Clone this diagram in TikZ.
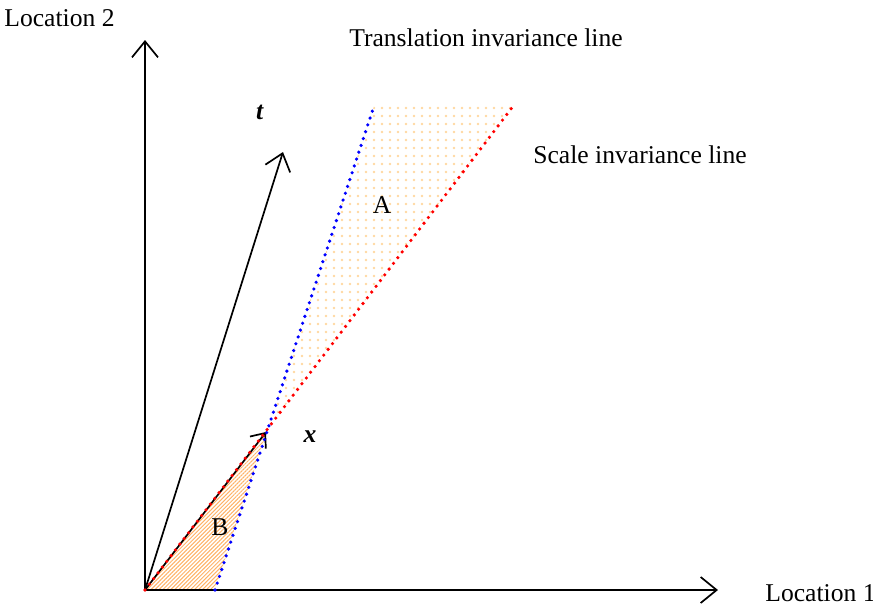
\documentclass[tikz,border=0pt]{standalone}
\usepackage{fontspec}
\setmainfont{Liberation Serif}
\usetikzlibrary{arrows.meta,patterns.meta}
\definecolor{dotorange}{RGB}{255,215,160}

\begin{document}
\begin{tikzpicture}[x=0.5pt,y=-0.5pt,
  vec/.style={line width=0.85pt,-{Straight Barb[length=8pt,width=13pt,line width=0.85pt]}},
  inv/.style={line width=1.8pt,line cap=round,dash pattern=on 0pt off 3.6pt},
  lbl/.style={font=\fontsize{12.8}{15}\selectfont,inner sep=0pt}]
\useasboundingbox (0,0) rectangle (873,606);
% corner points of the two regions
\coordinate (O) at (145,590);
\coordinate (X) at (268,428);
\coordinate (Bfoot) at (215,590);
\coordinate (Btop) at (374,106);
\coordinate (Rtop) at (514,105);
\coordinate (L1) at (718,590);
\coordinate (L2) at (145,40);
\coordinate (T) at (283,152);
\coordinate (Xtip) at (266,432);
% region A (dots)
\begin{scope}
\clip (X) -- (Btop) -- (Rtop) -- cycle;
\foreach \i in {0,...,33}
  \foreach \j in {0,...,41}
    \fill[dotorange] (262+8*\i,108+8*\j) circle (0.7pt);
\end{scope}
% region B (hatched)
\fill[pattern={Lines[angle=45,distance=1.4pt,line width=0.5pt]},pattern color=orange!60] (O) -- (X) -- (Bfoot) -- cycle;
% axes
\draw[vec] (O) -- (L1);
\draw[vec] (O) -- (L2);
\node[lbl,anchor=west] (loc1) at (765,593) {Location 1};
\node[lbl,anchor=west] (loc2) at (4,18) {Location 2};
% vectors t and x
\draw[vec] (O) -- (T);
\draw[line width=0.85pt,-{Straight Barb[length=6pt,width=10pt,line width=0.85pt]}] (O) -- (Xtip);
\node[lbl] (tlab) at (260,112) {\textbf{\textit{t}}};
\node[lbl] (xlab) at (310,437) {\textbf{\textit{x}}};
% invariance lines
\draw[inv,red] (O) -- (Rtop);
\draw[inv,blue] (Bfoot) -- (Btop);
\node[lbl] (trans) at (486,38) {Translation invariance line};
\node[lbl] (scale) at (640,155) {Scale invariance line};
\node[lbl] (A) at (382,205) {A};
\node[lbl] (B) at (220,527) {B};
\end{tikzpicture}
\end{document}
